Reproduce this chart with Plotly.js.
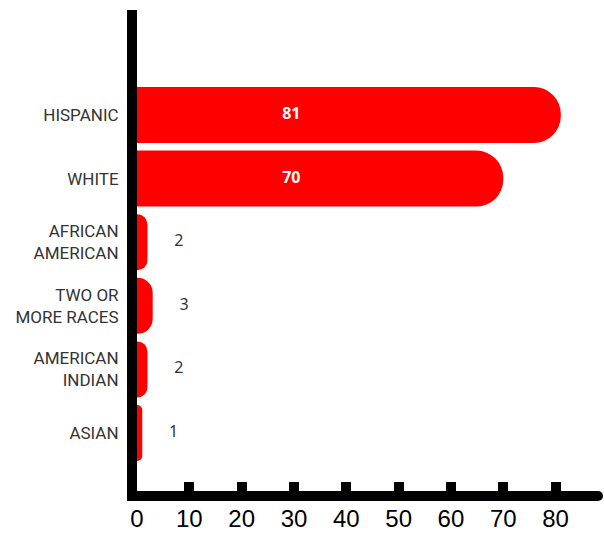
<!DOCTYPE html>
<html><head><meta charset="utf-8">
<script src="https://cdn.plot.ly/plotly-3.0.1.min.js"></script>
<style>html,body{margin:0;padding:0;background:#fff}#chart{width:604px;height:533px}</style>
</head><body><div id="chart"></div>
<script>
// ---- data ----
const categories = ["HISPANIC", "WHITE", "AFRICAN<br>AMERICAN", "TWO OR<br>MORE RACES", "AMERICAN<br>INDIAN", "ASIAN"];
const values = [81, 70, 2, 3, 2, 1];
const xTickValues = [0, 10, 20, 30, 40, 50, 60, 70, 80];
const xTickLabels = ["0", "10", "20", "30", "40", "50", "60", "70", "80"];

// ---- style constants ----
const RED = "#ff0000";
const INSIDE_THRESHOLD = 10;
const IN_LABEL_X = 29.5;
const OUT_OFFSET = 6;

const inCats = [], inVals = [], inX = [];
const outCats = [], outVals = [], outX = [];
categories.forEach((c, i) => {
  const v = values[i];
  if (v >= INSIDE_THRESHOLD) { inCats.push(c); inVals.push(String(v)); inX.push(IN_LABEL_X); }
  else { outCats.push(c); outVals.push(String(v)); outX.push(v + OUT_OFFSET); }
});

const traces = [
  {
    type: "bar", orientation: "h",
    x: values, y: categories,
    width: 0.88,
    marker: { color: RED, cornerradius: "50%", line: { width: 0 } },
    hoverinfo: "skip"
  },
  {
    type: "scatter", mode: "text",
    x: inX, y: inCats, text: inVals,
    textposition: "middle center",
    textfont: { family: "Noto Sans", size: 16, color: "#ffffff", weight: 700 },
    cliponaxis: false, hoverinfo: "skip"
  },
  {
    type: "scatter", mode: "text",
    x: outX, y: outCats, text: outVals,
    textposition: "middle center",
    textfont: { family: "Noto Sans", size: 16, color: "#333333" },
    cliponaxis: false, hoverinfo: "skip"
  }
];

const layout = {
  width: 604, height: 533,
  margin: { l: 137, r: 6, t: 10, b: 42 },
  paper_bgcolor: "#ffffff", plot_bgcolor: "#ffffff",
  showlegend: false,
  xaxis: {
    range: [0, 88.1],
    tickvals: xTickValues, ticktext: xTickLabels,
    showgrid: false, zeroline: false,
    showline: true, linecolor: "#000000", linewidth: 10,
    ticks: "inside", ticklen: 9, tickwidth: 10, tickcolor: "#000000",
    ticklabelstandoff: -3,
    tickfont: { family: "Liberation Sans, Arial, sans-serif", size: 24, color: "#000000" },
    fixedrange: true
  },
  yaxis: {
    type: "category",
    range: [5.912, -1.651],
    showgrid: false, zeroline: false,
    showline: true, linecolor: "#000000", linewidth: 10,
    ticks: "",
    ticklabelstandoff: 5,
    tickfont: { family: "Roboto, sans-serif", size: 17, color: "#333333" },
    fixedrange: true
  },
  shapes: [
    { type: "circle", xref: "x", xsizemode: "pixel", xanchor: 0, x0: -10, x1: 0,
      yref: "paper", ysizemode: "pixel", yanchor: 1, y0: -5, y1: 5,
      fillcolor: "#000000", line: { width: 0 }, layer: "above" },
    { type: "circle", xref: "paper", xsizemode: "pixel", xanchor: 1, x0: -5, x1: 5,
      yref: "paper", ysizemode: "pixel", yanchor: 0, y0: -10, y1: 0,
      fillcolor: "#000000", line: { width: 0 }, layer: "above" }
  ]
};

Plotly.newPlot("chart", traces, layout, { displayModeBar: false, staticPlot: true });
</script>
</body></html>
